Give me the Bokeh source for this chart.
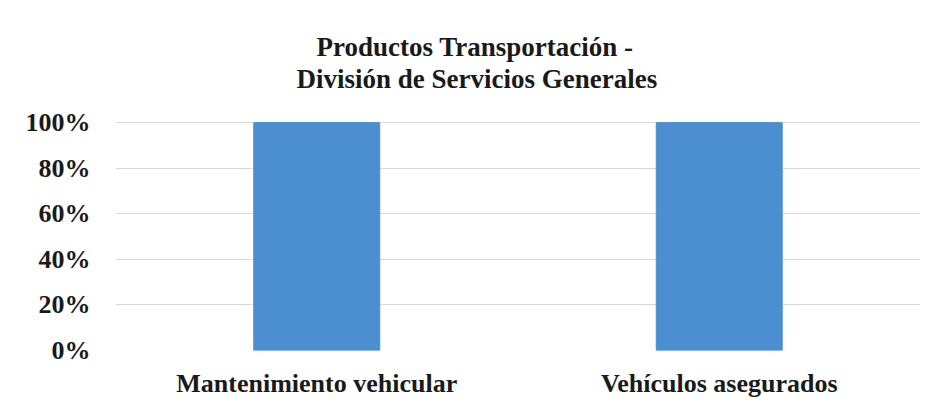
from bokeh.plotting import figure
from bokeh.models import ColumnDataSource, NumeralTickFormatter, FixedTicker, Range1d, Title
from bokeh.embed import file_html
from bokeh.resources import INLINE

categories = ["Mantenimiento vehicular", "Vehículos asegurados"]
values = [1.0, 1.0]
y_ticks = [0, 0.2, 0.4, 0.6, 0.8, 1.0]
title_lines = ["Productos Transportación -", "División de Servicios Generales"]

src = ColumnDataSource(dict(cat=categories, val=values))

p = figure(x_range=categories, y_range=Range1d(0, 1.005), width=933, height=408,
           output_backend="svg", toolbar_location=None,
           min_border_left=115, min_border_right=13, min_border_bottom=58, min_border_top=121)

p.vbar(x="cat", top="val", width=0.313, source=src, color="#4b8fd0")

def title(text, offset, standoff=0, size="27px"):
    return Title(text=text, align="left", offset=offset, standoff=standoff,
                 text_font="Liberation Serif", text_font_size=size,
                 text_font_style="bold", text_color="#1a1a1a")

p.add_layout(title(" ", 0, 0, "24px"), "above")
p.add_layout(title(title_lines[1], 181), "above")
p.add_layout(title(title_lines[0], 201), "above")

p.yaxis.ticker = FixedTicker(ticks=y_ticks)
p.yaxis.formatter = NumeralTickFormatter(format="0%")
for ax in (p.xaxis, p.yaxis):
    ax.axis_line_color = None
    ax.major_tick_line_color = None
    ax.minor_tick_line_color = None
    ax.major_label_text_font = "Liberation Serif"
    ax.major_label_text_font_style = "bold"
    ax.major_label_text_color = "#1a1a1a"
p.yaxis.major_label_text_font_size = "26px"
p.xaxis.major_label_text_font_size = "26px"
p.yaxis.major_label_standoff = 19
p.xaxis.major_label_standoff = 12

p.xgrid.grid_line_color = None
p.ygrid.grid_line_color = "#d9d9d9"
p.ygrid.grid_line_width = 1
p.outline_line_color = None
p.x_range.range_padding = 0.0

open("out.html", "w").write(file_html(p, INLINE))
